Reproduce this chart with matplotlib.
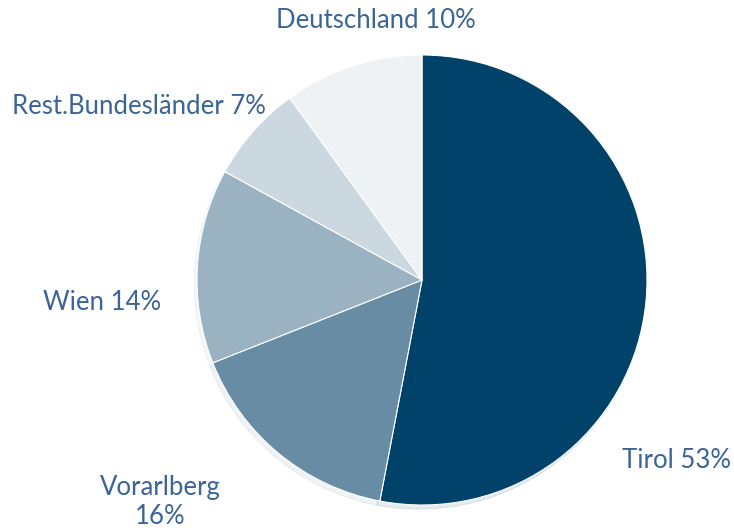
import matplotlib.pyplot as plt

labels = ['Tirol', 'Vorarlberg', 'Wien', 'Rest.Bundesländer', 'Deutschland']
shares = [53, 16, 14, 7, 10]
colors = ['#00426a', '#678ca4', '#9ab2c2', '#cbd8e0', '#eef2f5']

text_color = '#3b6497'
plt.rcParams['font.family'] = ['Lato', 'DejaVu Sans']

fig = plt.figure(figsize=(7.34, 5.28), dpi=100)
ax = fig.add_axes([0, 0, 1, 1])

ax.pie(shares, colors=colors, startangle=90, counterclock=False,
       center=(422, 248), radius=225, frame=True,
       wedgeprops=dict(edgecolor='white', linewidth=0.8),
       shadow=dict(ox=-2, oy=-3, shade=0.0, alpha=0.1))
ax.set_xlim(0, 734)
ax.set_ylim(0, 528)
ax.set_aspect('equal')
ax.axis('off')

# label positions in pixel coords (x, y from top)
label_pos = [(677, 461), (160, 502), (102, 303), (139, 107), (376, 21)]
for lab, val, (x, y) in zip(labels, shares, label_pos):
    txt = f'{lab} {val}%'
    if lab == 'Vorarlberg':
        txt = f'{lab}\n{val}%'
    ax.text(x, 528 - y, txt, ha='center', va='center', fontsize=18.5,
            color=text_color, linespacing=1.2)

fig.savefig('out.png', dpi=100)
